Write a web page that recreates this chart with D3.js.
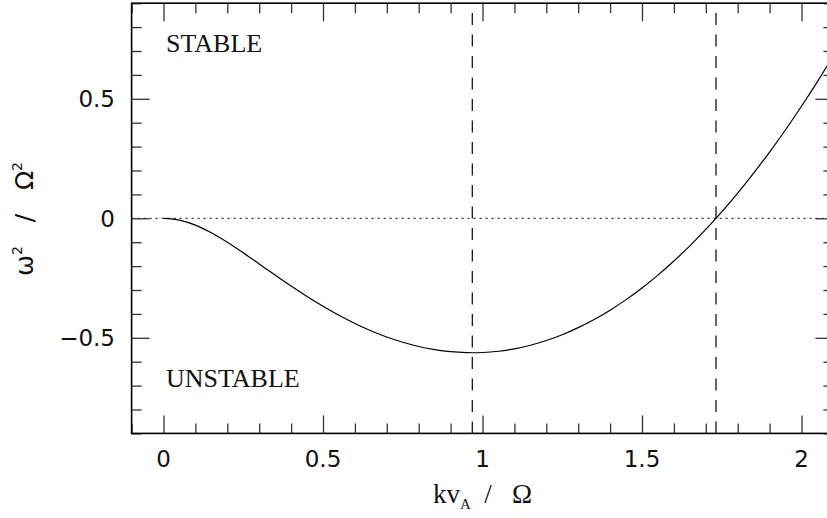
<!DOCTYPE html>
<html>
<head>
<meta charset="utf-8">
<script src="https://cdn.jsdelivr.net/npm/d3@7"></script>
<style>
  body { margin: 0; background: #fff; }
  svg { display: block; }
  text { fill: #111; }
</style>
</head>
<body>
<svg id="chart"></svg>
<script>
// kv_A / Omega values and the curve omega^2 / Omega^2
const kv = [0, 0.05, 0.1, 0.15, 0.2, 0.25, 0.3, 0.35, 0.4, 0.45, 0.5, 0.55, 0.6, 0.65, 0.7,
  0.75, 0.8, 0.85, 0.9, 0.95, 1.0, 1.05, 1.1, 1.15, 1.2, 1.25, 1.3, 1.35, 1.4, 1.45, 1.5,
  1.55, 1.6, 1.65, 1.7, 1.75, 1.8, 1.85, 1.9, 1.95, 2.0, 2.05, 2.1];
const omega2 = [0, -0.0074, -0.0285, -0.0606, -0.1003, -0.1446, -0.191, -0.2377, -0.2834,
  -0.3271, -0.368, -0.4058, -0.44, -0.4703, -0.4966, -0.5186, -0.5363, -0.5495, -0.5582,
  -0.5622, -0.5616, -0.5562, -0.5461, -0.5312, -0.5115, -0.487, -0.4576, -0.4234, -0.3843,
  -0.3403, -0.2914, -0.2376, -0.1788, -0.1152, -0.0466, 0.027, 0.1054, 0.1889, 0.2773,
  0.3706, 0.4689, 0.5721, 0.6803];
const markers = [0.968, 1.732];       // dashed verticals: minimum and marginal stability
const xTicks = [0, 0.5, 1, 1.5, 2];
const yTicks = [-0.5, 0, 0.5];
const regionLabels = [
  { text: "STABLE", y: 0.7 },
  { text: "UNSTABLE", y: -0.7 }
];

const W = 827, H = 518;
const svg = d3.select("#chart").attr("width", W).attr("height", H);

const x = d3.scaleLinear().domain([-0.1, 2.1]).range([131.6, 833.4]);
const y = d3.scaleLinear().domain([-0.9, 0.9]).range([433.4, 3.2]);
const [x0, x1] = x.range();
const [y0, y1] = y.range();

svg.append("defs").append("clipPath").attr("id", "clip")
  .append("rect")
  .attr("x", x0).attr("y", y1)
  .attr("width", x1 - x0).attr("height", y0 - y1);

const plot = svg.append("g").attr("clip-path", "url(#clip)");

// dotted zero line
plot.append("line")
  .attr("x1", x0).attr("x2", x1)
  .attr("y1", y(0)).attr("y2", y(0))
  .attr("stroke", "#000").attr("stroke-width", 1)
  .attr("stroke-dasharray", "2,4");

// dashed verticals
plot.selectAll(".marker")
  .data(markers)
  .enter().append("line")
  .attr("class", "marker")
  .attr("x1", d => x(d)).attr("x2", d => x(d))
  .attr("y1", y0).attr("y2", y1)
  .attr("stroke", "#000").attr("stroke-width", 1.2)
  .attr("stroke-dasharray", "12,9.5");

// dispersion curve
const line = d3.line()
  .x((d, i) => x(kv[i]))
  .y(d => y(d))
  .curve(d3.curveCatmullRom);

plot.append("path")
  .datum(omega2)
  .attr("d", line)
  .attr("fill", "none")
  .attr("stroke", "#000")
  .attr("stroke-width", 1.2);

// frame with ticks on all four sides
const minorX = d3.range(-0.1, 2.101, 0.1).map(v => +v.toFixed(2));
const minorY = d3.range(-0.9, 0.901, 0.1).map(v => +v.toFixed(2));
const isMajor = v => Math.abs(v * 2 - Math.round(v * 2)) < 1e-6;

const axes = svg.append("g");
axes.append("g").attr("transform", `translate(0,${y0})`)
  .call(d3.axisBottom(x).tickValues(minorX).tickSize(-10).tickFormat(""));
axes.append("g").attr("transform", `translate(0,${y1})`)
  .call(d3.axisTop(x).tickValues(minorX).tickSize(-10).tickFormat(""));
axes.append("g").attr("transform", `translate(${x0},0)`)
  .call(d3.axisLeft(y).tickValues(minorY).tickSize(-10).tickFormat(""));
axes.append("g").attr("transform", `translate(${x1},0)`)
  .call(d3.axisRight(y).tickValues(minorY).tickSize(-10).tickFormat(""));

axes.selectAll(".tick line")
  .attr("stroke", "#333")
  .attr("stroke-width", 1.3);
axes.selectAll(".tick").each(function (d) {
  if (isMajor(d)) {
    const l = d3.select(this).select("line");
    ["x2", "y2"].forEach(a => {
      const v = +l.attr(a);
      if (v) l.attr(a, v * 1.8);
    });
  }
});
axes.selectAll(".domain").remove();

svg.append("rect")
  .attr("x", x0).attr("y", y1)
  .attr("width", x1 - x0).attr("height", y0 - y1)
  .attr("fill", "none")
  .attr("stroke", "#000")
  .attr("stroke-width", 1.6);

// tick labels
svg.selectAll(".xlab")
  .data(xTicks)
  .enter().append("text")
  .attr("x", d => x(d))
  .attr("y", 467)
  .attr("text-anchor", "middle")
  .attr("font-family", "DejaVu Sans")
  .attr("font-size", 23)
  .text(d => d3.format("")(d));

svg.selectAll(".ylab")
  .data(yTicks)
  .enter().append("text")
  .attr("x", 115)
  .attr("y", d => y(d) + 8.5)
  .attr("text-anchor", "end")
  .attr("font-family", "DejaVu Sans")
  .attr("font-size", 23)
  .text(d => d < 0 ? "\u2212" + Math.abs(d) : String(d));

// region labels
svg.selectAll(".region")
  .data(regionLabels)
  .enter().append("text")
  .attr("x", 166)
  .attr("y", d => d.y > 0 ? 51.7 : 386.7)
  .attr("font-family", "Liberation Serif")
  .attr("font-size", 26)
  .text(d => d.text);

// axis titles
const xt = svg.append("text")
  .attr("x", (x0 + x1) / 2)
  .attr("y", 503)
  .attr("text-anchor", "middle")
  .attr("font-family", "Liberation Serif")
  .attr("font-size", 27)
  .style("white-space", "pre");
xt.append("tspan").text("kv");
xt.append("tspan").attr("font-size", 15).attr("dy", 6).text("A");
xt.append("tspan").attr("dy", -6).text("  /   \u03A9");

const yt = svg.append("text")
  .attr("transform", "translate(33,219) rotate(-90)")
  .attr("text-anchor", "middle")
  .attr("font-family", "DejaVu Sans")
  .attr("font-size", 25)
  .style("white-space", "pre");
yt.append("tspan").text("\u03C9");
yt.append("tspan").attr("font-size", 14).attr("dy", -11).text("2");
yt.append("tspan").attr("dy", 11).text("   /   \u03A9");
yt.append("tspan").attr("font-size", 14).attr("dy", -11).text("2");
</script>
</body>
</html>
